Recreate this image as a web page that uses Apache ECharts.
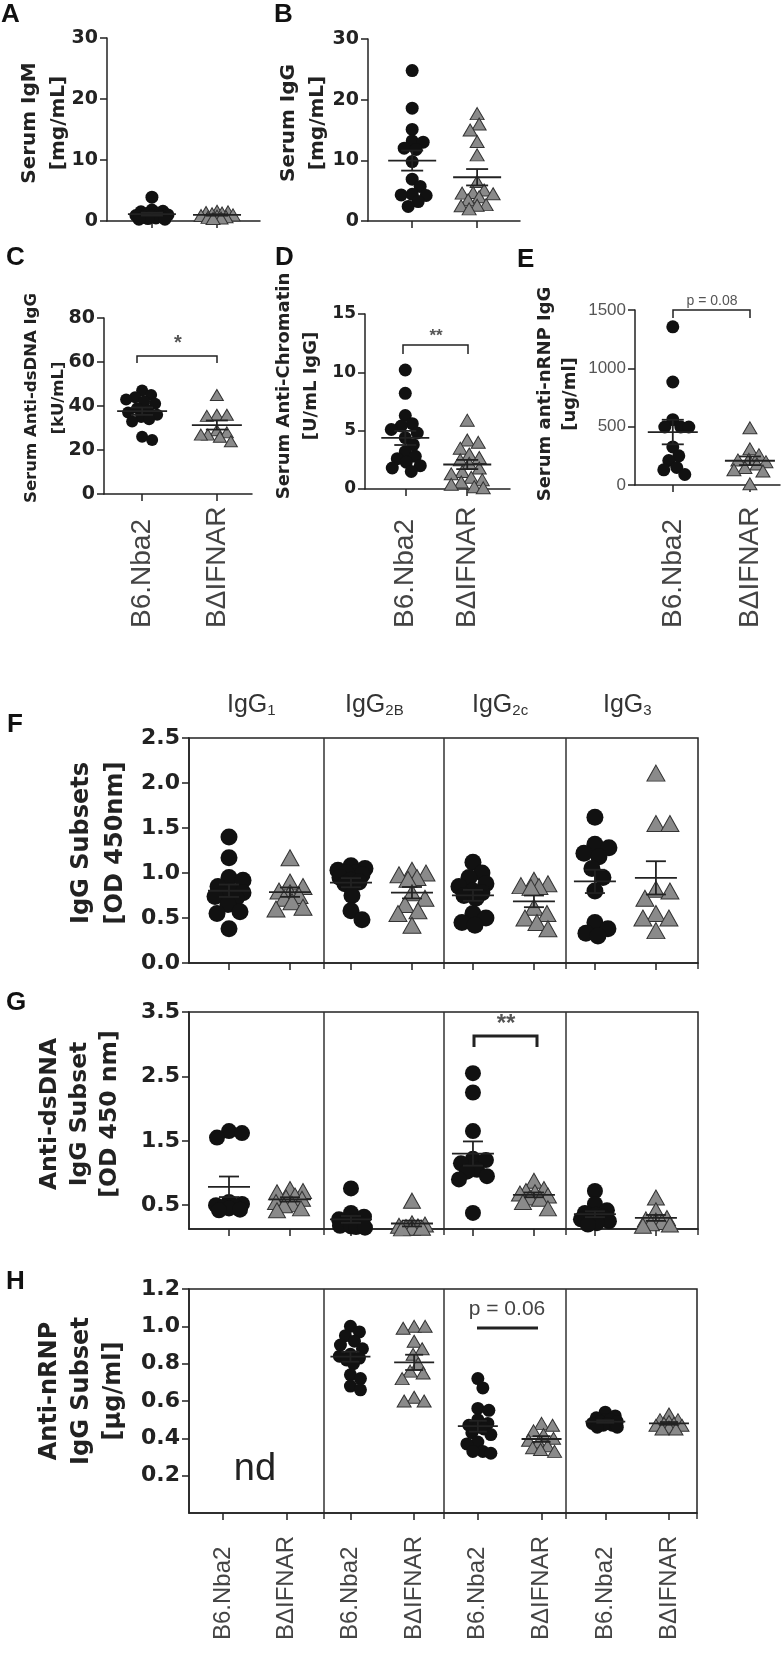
<!DOCTYPE html>
<html>
<head>
<meta charset="utf-8">
<script src="https://cdn.jsdelivr.net/npm/echarts@6/dist/echarts.min.js"></script>
<style>
  html, body { margin: 0; padding: 0; background: #fff; }
  #chart { width: 782px; height: 1660px; }
</style>
</head>
<body>
<div id="chart"></div>
<script>
// ---- data ----
const groups = ['B6.Nba2', 'B\u0394IFNAR']
const subsets = [['IgG', '1'], ['IgG', '2B'], ['IgG', '2c'], ['IgG', '3']]

// A - serum IgM [mg/mL]
const igmB6 = [3.9, 1.8, 1.6, 1.5, 1.3, 1.2, 1.0, 0.9, 0.8, 0.7, 0.6, 0.5, 0.4, 0.3, 0.3]
const igmKO = [1.6, 1.5, 1.4, 1.3, 1.2, 1.0, 0.9, 0.8, 0.7, 0.6, 0.5, 0.4]
// B - serum IgG [mg/mL]
const iggB6 = [24.8, 18.6, 15.1, 13.2, 13.0, 12.0, 11.8, 9.8, 6.9, 5.7, 4.4, 4.3, 4.2, 3.2, 2.4]
const iggKO = [17.7, 16.0, 15.0, 13.1, 10.9, 6.5, 5.1, 4.7, 4.6, 4.5, 4.0, 3.5, 2.7, 2.6, 2.5, 2.0]
// C - anti-dsDNA IgG [kU/mL]
const dsdnaB6 = [47, 45, 44, 43, 42, 41, 39, 38, 37, 36, 35, 34, 33, 26, 24.5]
const dsdnaKO = [45, 36, 36, 35.5, 29, 28, 27, 27, 26, 24]
// D - anti-chromatin [U/mL IgG]
const chromB6 = [10.2, 8.2, 6.3, 5.6, 5.4, 5.1, 4.8, 4.4, 3.8, 3.2, 2.8, 2.6, 2.3, 2.0, 1.8, 1.5]
const chromKO = [5.9, 4.2, 4.0, 3.5, 3.0, 2.7, 2.5, 2.2, 1.8, 1.5, 1.3, 1.0, 0.8, 0.6, 0.4, 0.2, 0.1]
// E - anti-nRNP IgG [ug/ml]
const rnpB6 = [1356, 883, 560, 497, 497, 497, 326, 250, 210, 150, 130, 90]
const rnpKO = [490, 310, 260, 220, 215, 200, 180, 150, 130, 120, 10]

// F - IgG subsets [OD 450nm], one list per subset (IgG1, IgG2B, IgG2c, IgG3)
const subB6 = [
  [1.40, 1.17, 0.95, 0.92, 0.85, 0.80, 0.78, 0.76, 0.74, 0.72, 0.65, 0.57, 0.55, 0.38],
  [1.08, 1.05, 1.03, 1.0, 1.0, 0.98, 0.95, 0.92, 0.9, 0.88, 0.75, 0.58, 0.48],
  [1.12, 1.0, 0.95, 0.88, 0.85, 0.8, 0.78, 0.75, 0.72, 0.55, 0.5, 0.45, 0.42],
  [1.62, 1.32, 1.28, 1.22, 1.18, 1.05, 0.95, 0.8, 0.45, 0.38, 0.33, 0.3]
]
const subKO = [
  [1.17, 0.90, 0.85, 0.80, 0.78, 0.75, 0.72, 0.68, 0.62, 0.60],
  [1.03, 1.0, 0.98, 0.95, 0.93, 0.78, 0.72, 0.65, 0.58, 0.55, 0.42],
  [0.92, 0.88, 0.86, 0.85, 0.84, 0.62, 0.55, 0.5, 0.45, 0.38],
  [2.11, 1.55, 1.55, 0.82, 0.8, 0.72, 0.55, 0.5, 0.5, 0.36]
]
// G - anti-dsDNA IgG subset [OD 450 nm]
const dsSubB6 = [
  [1.65, 1.62, 1.55, 0.55, 0.52, 0.5, 0.48, 0.47, 0.45, 0.43, 0.42],
  [0.76, 0.38, 0.32, 0.28, 0.25, 0.22, 0.2, 0.18, 0.17, 0.16, 0.15],
  [2.55, 2.25, 1.65, 1.22, 1.2, 1.15, 1.05, 1.02, 0.95, 0.9, 0.38],
  [0.72, 0.52, 0.42, 0.38, 0.35, 0.32, 0.3, 0.28, 0.25, 0.22, 0.2]
]
const dsSubKO = [
  [0.75, 0.72, 0.7, 0.65, 0.62, 0.6, 0.55, 0.52, 0.5, 0.45, 0.42],
  [0.57, 0.22, 0.2, 0.18, 0.17, 0.16, 0.15, 0.15, 0.14],
  [0.88, 0.75, 0.72, 0.7, 0.68, 0.65, 0.62, 0.6, 0.55, 0.45],
  [0.62, 0.42, 0.3, 0.28, 0.26, 0.24, 0.22, 0.2, 0.18]
]
// H - anti-nRNP IgG subset [ug/ml]; IgG1 not determined
const rnpSubB6 = [
  [],
  [1.0, 0.97, 0.95, 0.92, 0.9, 0.88, 0.85, 0.84, 0.83, 0.82, 0.8, 0.74, 0.72, 0.68, 0.66],
  [0.72, 0.67, 0.56, 0.55, 0.5, 0.48, 0.47, 0.46, 0.45, 0.43, 0.42, 0.38, 0.37, 0.33, 0.33, 0.32],
  [0.54, 0.52, 0.51, 0.5, 0.5, 0.49, 0.49, 0.48, 0.48, 0.47, 0.47, 0.46, 0.46]
]
const rnpSubKO = [
  [],
  [1.0, 1.0, 0.99, 0.92, 0.88, 0.85, 0.8, 0.76, 0.75, 0.72, 0.62, 0.6, 0.6],
  [0.48, 0.47, 0.44, 0.42, 0.4, 0.39, 0.38, 0.36, 0.35, 0.34, 0.33],
  [0.53, 0.5, 0.5, 0.49, 0.48, 0.48, 0.47, 0.47, 0.46, 0.45, 0.45]
]

// ---- helpers ----
const BOLD = 'DejaVu Sans'
const SANS = 'Liberation Sans, Arial, sans-serif'
const INK = '#222'

const mean = a => a.reduce((s, v) => s + v, 0) / a.length
const sem = a => {
  const m = mean(a)
  const sd = Math.sqrt(a.reduce((s, v) => s + (v - m) * (v - m), 0) / (a.length - 1))
  return sd / Math.sqrt(a.length)
}

// beeswarm: horizontal pixel offset per value, kept inside +-maxS
function swarm(vals, pxY, diam, maxS) {
  const order = vals.map((v, i) => i).sort((a, b) => vals[b] - vals[a])
  const placed = []
  const off = new Array(vals.length).fill(0)
  const minD = diam * 0.8
  const cands = [0]
  for (let s = 1; s <= maxS; s++) cands.push(s, -s)
  order.forEach(i => {
    const y = vals[i] * pxY
    let best = 0, bestD = -1
    for (const c of cands) {
      const d = placed.length ? Math.min(...placed.map(p => Math.hypot(p[0] - c, p[1] - y))) : Infinity
      if (d >= minD) { best = c; break }
      if (d > bestD + 0.5) { bestD = d; best = c }
    }
    placed.push([best, y])
    off[i] = best
  })
  return off
}

// ---- panel layout (pixels / axis ranges) ----
const panels = [
  { grid: { left: 107, top: 38, width: 153, height: 183 }, x: [-0.69, 1.66], y: [0, 30], yTicks: [0, 10, 20, 30],
    name: { text: 'Serum IgM\n[mg/mL]', cx: 44, cy: 123, size: 20, lh: 29 },
    tick: { size: 19, font: BOLD, weight: 'bold', color: INK },
    b6: [igmB6], ko: [igmKO], diam: 13, spread: 16, meanHalf: 24, capHalf: 11 },
  { grid: { left: 368, top: 39, width: 152, height: 182 }, x: [-0.68, 1.66], y: [0, 30], yTicks: [0, 10, 20, 30],
    name: { text: 'Serum IgG\n[mg/mL]', cx: 303, cy: 123, size: 20, lh: 29 },
    tick: { size: 19, font: BOLD, weight: 'bold', color: INK },
    b6: [iggB6], ko: [iggKO], diam: 13, spread: 16, meanHalf: 24, capHalf: 11 },
  { grid: { left: 104, top: 318, width: 148, height: 176 }, x: [-0.51, 1.47], y: [0, 80], yTicks: [0, 20, 40, 60, 80],
    name: { text: 'Serum Anti-dsDNA IgG\n[kU/mL]', cx: 45, cy: 398, size: 16.5, lh: 27 },
    tick: { size: 19, font: BOLD, weight: 'bold', color: INK },
    b6: [dsdnaB6], ko: [dsdnaKO], diam: 12, spread: 16, meanHalf: 25, capHalf: 11, xLabel: { size: 28, margin: 134 } },
  { grid: { left: 365, top: 314, width: 145, height: 175 }, x: [-0.65, 1.69], y: [0, 15], yTicks: [0, 5, 10, 15],
    name: { text: 'Serum Anti-Chromatin\n[U/mL IgG]', cx: 298, cy: 386, size: 18, lh: 27 },
    tick: { size: 17, font: BOLD, weight: 'bold', color: INK },
    b6: [chromB6], ko: [chromKO], diam: 13, spread: 16, meanHalf: 24, capHalf: 11, xLabel: { size: 28, margin: 139 } },
  { grid: { left: 635, top: 310, width: 145, height: 175 }, x: [-0.49, 1.39], y: [0, 1500], yTicks: [0, 500, 1000, 1500],
    name: { text: 'Serum anti-nRNP IgG\n[ug/ml]', cx: 558, cy: 394, size: 18, lh: 25 },
    tick: { size: 17, font: SANS, weight: 'normal', color: '#555' },
    b6: [rnpB6], ko: [rnpKO], diam: 13, spread: 16, meanHalf: 25, capHalf: 11, xLabel: { size: 28, margin: 143 } },
  { grid: { left: 189, top: 738, width: 509, height: 225, box: true }, x: [-0.656, 7.69], y: [0, 2.5], yTicks: [0, 0.5, 1, 1.5, 2, 2.5], fixed: 1,
    name: { text: 'IgG Subsets\n[OD 450nm]', cx: 99, cy: 843, size: 24, lh: 34 },
    tick: { size: 22, font: BOLD, weight: 'bold', color: INK },
    b6: subB6, ko: subKO, diam: 17, spread: 14, meanHalf: 21, capHalf: 10 },
  { grid: { left: 189, top: 1012, width: 509, height: 217, box: true }, x: [-0.656, 7.69], y: [0.13, 3.5], yTicks: [0.5, 1.5, 2.5, 3.5], fixed: 1,
    name: { text: 'Anti-dsDNA\nIgG Subset\n[OD 450 nm]', cx: 80, cy: 1114, size: 23.5, lh: 30 },
    tick: { size: 22, font: BOLD, weight: 'bold', color: INK },
    b6: dsSubB6, ko: dsSubKO, diam: 16, spread: 14, meanHalf: 21, capHalf: 10 },
  { grid: { left: 189, top: 1289, width: 508, height: 224, box: true }, x: [-0.534, 7.44], y: [0, 1.2], yTicks: [0.2, 0.4, 0.6, 0.8, 1.0, 1.2], fixed: 1,
    name: { text: 'Anti-nRNP\nIgG Subset\n[\u00b5g/ml]', cx: 82, cy: 1391, size: 24, lh: 32 },
    tick: { size: 22, font: BOLD, weight: 'bold', color: INK },
    b6: rnpSubB6, ko: rnpSubKO, diam: 13, spread: 13, meanHalf: 20, capHalf: 9, xLabel: { size: 24, margin: 127 } }
]

const grids = [], xAxes = [], yAxes = [], series = [], graphics = []

function errRender(half, cap) {
  return function (params, api) {
    const c = api.coord([api.value(0), api.value(1)])
    const hi = api.coord([api.value(0), api.value(1) + api.value(2)])
    const lo = api.coord([api.value(0), api.value(1) - api.value(2)])
    const st = { stroke: INK, lineWidth: 1.8 }
    return {
      type: 'group',
      children: [
        { type: 'line', shape: { x1: c[0] - half, y1: c[1], x2: c[0] + half, y2: c[1] }, style: st },
        { type: 'line', shape: { x1: c[0], y1: hi[1], x2: c[0], y2: lo[1] }, style: st },
        { type: 'line', shape: { x1: c[0] - cap, y1: hi[1], x2: c[0] + cap, y2: hi[1] }, style: st },
        { type: 'line', shape: { x1: c[0] - cap, y1: lo[1], x2: c[0] + cap, y2: lo[1] }, style: st }
      ]
    }
  }
}

panels.forEach((p, gi) => {
  const box = !!p.grid.box
  grids.push({
    left: p.grid.left, top: p.grid.top, width: p.grid.width, height: p.grid.height,
    containLabel: false, outerBoundsMode: 'none',
    show: box, borderColor: INK, borderWidth: box ? 1.5 : 0, backgroundColor: 'transparent'
  })
  const nCat = p.b6.length * 2
  const catIdx = Array.from({ length: nCat }, (v, i) => i)
  xAxes.push({
    gridIndex: gi, type: 'value', min: p.x[0], max: p.x[1],
    splitLine: { show: false },
    axisLine: { show: true, onZero: false, lineStyle: { color: INK, width: 1.5 } },
    axisTick: { show: true, customValues: catIdx, length: 7, lineStyle: { color: INK, width: 1.5 } },
    axisLabel: p.xLabel ? {
      show: true, customValues: catIdx, rotate: 90, align: 'left', margin: p.xLabel.margin,
      formatter: v => groups[Math.round(v) % 2],
      fontFamily: SANS, fontSize: p.xLabel.size, color: '#444'
    } : { show: false }
  })
  yAxes.push({
    gridIndex: gi, type: 'value', min: p.y[0], max: p.y[1],
    splitLine: { show: false },
    axisLine: { show: true, onZero: false, lineStyle: { color: INK, width: 1.5 } },
    axisTick: { show: true, customValues: p.yTicks, length: 7, lineStyle: { color: INK, width: 1.5 } },
    axisLabel: {
      show: true, customValues: p.yTicks, margin: 9,
      formatter: v => p.fixed ? v.toFixed(p.fixed) : String(v),
      fontFamily: p.tick.font, fontSize: p.tick.size, fontWeight: p.tick.weight, color: p.tick.color
    }
  })
  // rotated y-axis title
  graphics.push({
    type: 'text', x: p.name.cx, y: p.name.cy, rotation: Math.PI / 2,
    style: {
      text: p.name.text, fontFamily: BOLD, fontWeight: 'bold', fontSize: p.name.size,
      lineHeight: p.name.lh, fill: INK, align: 'center', verticalAlign: 'middle'
    }
  })

  const pxX = p.grid.width / (p.x[1] - p.x[0])
  const pxY = p.grid.height / (p.y[1] - p.y[0])
  const circles = [], tris = [], bars = []
  p.b6.forEach((vals, k) => {
    const off = swarm(vals, pxY, p.diam, p.spread)
    vals.forEach((v, i) => circles.push([2 * k + off[i] / pxX, v]))
    if (vals.length) bars.push([2 * k, mean(vals), sem(vals)])
  })
  p.ko.forEach((vals, k) => {
    const off = swarm(vals, pxY, p.diam, p.spread)
    vals.forEach((v, i) => tris.push([2 * k + 1 + off[i] / pxX, v]))
    if (vals.length) bars.push([2 * k + 1, mean(vals), sem(vals)])
  })
  series.push({
    type: 'scatter', xAxisIndex: gi, yAxisIndex: gi, silent: true, z: 2,
    symbol: 'circle', symbolSize: p.diam, itemStyle: { color: '#111', opacity: 1 }, data: circles
  })
  series.push({
    type: 'scatter', xAxisIndex: gi, yAxisIndex: gi, silent: true, z: 3,
    symbol: 'triangle', symbolSize: [p.diam + 1, p.diam - 1],
    itemStyle: { color: '#8a8a8a', borderColor: '#333', borderWidth: 1, opacity: 1 }, data: tris
  })
  series.push({
    type: 'custom', xAxisIndex: gi, yAxisIndex: gi, silent: true, z: 5, clip: false,
    encode: { x: 0, y: 1 }, renderItem: errRender(p.meanHalf, p.capHalf), data: bars
  })
})

// ---- labels, brackets, dividers ----
const txt = (x, y, t, size, opt) => ({
  type: 'text', x: x, y: y,
  style: Object.assign({ text: t, fontSize: size, fontFamily: SANS, fill: INK, align: 'left', verticalAlign: 'top' }, (opt || {}))
})
const ln = (x1, y1, x2, y2, w, c) => ({ type: 'line', shape: { x1, y1, x2, y2 }, style: { stroke: c || INK, lineWidth: w || 1.5 } })
const poly = (pts, w, c) => ({ type: 'polyline', shape: { points: pts }, style: { stroke: c || INK, lineWidth: w || 1.5, fill: null } })

const letterStyle = { fontWeight: 'bold', fill: '#111' }
graphics.push(
  txt(1, 2, 'A', 26, letterStyle), txt(274, 2, 'B', 26, letterStyle),
  txt(6, 245, 'C', 26, letterStyle), txt(275, 245, 'D', 26, letterStyle),
  txt(517, 247, 'E', 26, letterStyle), txt(7, 712, 'F', 26, letterStyle),
  txt(6, 990, 'G', 26, letterStyle), txt(6, 1269, 'H', 26, letterStyle),

  // significance marks
  poly([[137, 363], [137, 356], [217, 356], [217, 363]], 1.5),
  txt(178, 343, '*', 20, { align: 'center', verticalAlign: 'middle', fill: '#555', fontWeight: 'bold' }),
  poly([[403, 354], [403, 345], [468, 345], [468, 354]], 1.5),
  txt(436, 336, '**', 17, { align: 'center', verticalAlign: 'middle', fill: '#555', fontWeight: 'bold' }),
  poly([[673, 318], [673, 310], [750, 310], [750, 318]], 1.5),
  txt(712, 301, 'p = 0.08', 14, { align: 'center', verticalAlign: 'middle', fill: '#555' }),
  poly([[474, 1047], [474, 1036], [537, 1036], [537, 1047]], 3),
  txt(506, 1024, '**', 24, { align: 'center', verticalAlign: 'middle', fill: '#555', fontWeight: 'bold' }),
  ln(477, 1328, 538, 1328, 3),
  txt(507, 1309, 'p = 0.06', 21, { align: 'center', verticalAlign: 'middle', fill: '#444' }),
  txt(255, 1470, 'nd', 38, { align: 'center', verticalAlign: 'middle', fill: '#222' })
)

// subset headers
const headX = [227, 345, 472, 603]
subsets.forEach((s, k) => {
  graphics.push({
    type: 'text', x: headX[k], y: 684,
    style: {
      text: '{a|' + s[0] + '}{s|' + s[1] + '}', fontFamily: SANS, fill: '#333', verticalAlign: 'top',
      rich: {
        a: { fontSize: 25, fontFamily: SANS, fill: '#333', verticalAlign: 'bottom', lineHeight: 34 },
        s: { fontSize: 15, fontFamily: SANS, fill: '#333', verticalAlign: 'bottom', lineHeight: 26 }
      }
    }
  })
})

// vertical dividers between subsets in F, G, H
const dividerX = [324, 444, 566]
;[5, 6, 7].forEach(gi => {
  const g = panels[gi].grid
  dividerX.forEach(x => graphics.push(ln(x, g.top, x, g.top + g.height + 6, 1.5, '#333')))
  graphics.push(ln(g.left + g.width, g.top + g.height, g.left + g.width, g.top + g.height + 6, 1.5, '#333'))
})

const myChart = echarts.init(document.getElementById('chart'))
myChart.setOption({
  animation: false,
  backgroundColor: '#fff',
  grid: grids,
  xAxis: xAxes,
  yAxis: yAxes,
  series: series,
  graphic: graphics
})
</script>
</body>
</html>
